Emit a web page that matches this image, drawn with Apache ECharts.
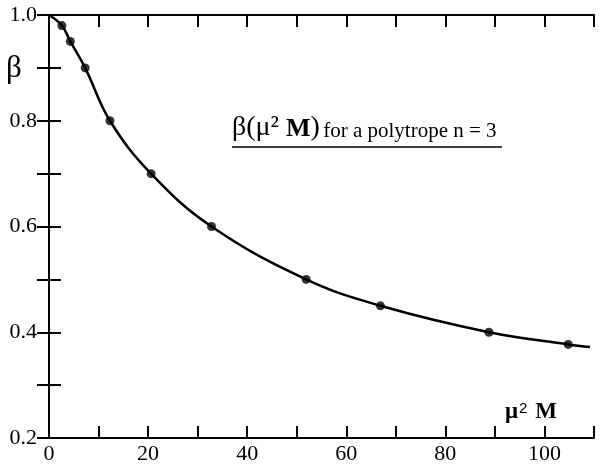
<!DOCTYPE html>
<html>
<head>
<meta charset="utf-8">
<script src="https://cdn.jsdelivr.net/npm/echarts@6/dist/echarts.min.js"></script>
<style>
  html, body { margin: 0; padding: 0; background: #fff; }
  #chart { width: 600px; height: 465px; }
</style>
</head>
<body>
<div id="chart"></div>
<script>
// points: mu^2 M vs beta
var muM = [2.6, 4.3, 7.3, 12.3, 20.6, 32.8, 51.9, 66.9, 88.8, 104.8]
var beta = [0.98, 0.95, 0.90, 0.80, 0.70, 0.60, 0.50, 0.45, 0.40, 0.377]
// the curve also runs from the corner to the right edge
var curveX = [0, 2.6, 4.3, 7.3, 12.3, 20.6, 32.8, 51.9, 66.9, 88.8, 104.8, 109.2]
var curveY = [1.0, 0.98, 0.95, 0.90, 0.80, 0.70, 0.60, 0.50, 0.45, 0.40, 0.377, 0.372]

var serif = '"Liberation Serif", "DejaVu Serif", serif'

var chart = echarts.init(document.getElementById('chart'))

function zip(a, b) {
  return a.map(function(v, i) { return [v, b[i]] })
}

var axisLine = { lineStyle: { color: '#000', width: 2 } }
var axisTick = { inside: true, length: 12, lineStyle: { color: '#000', width: 2 } }

chart.setOption({
  animation: false,
  grid: { left: 49, right: 6, top: 15, bottom: 26 },
  xAxis: [{
    type: 'value',
    min: 0,
    max: 110,
    interval: 10,
    axisLine: axisLine,
    axisTick: axisTick,
    splitLine: { show: false },
    axisLabel: {
      color: '#000',
      fontFamily: serif,
      fontSize: 22,
      margin: 5,
      formatter: function(v) {
        return v % 20 === 0 ? String(v) : ''
      }
    }
  }, {
    type: 'value',
    position: 'top',
    min: 0,
    max: 110,
    interval: 10,
    axisLine: axisLine,
    axisTick: axisTick,
    splitLine: { show: false },
    axisLabel: { show: false }
  }],
  yAxis: [{
    type: 'value',
    min: 0.2,
    max: 1.0,
    interval: 0.1,
    axisLine: axisLine,
    axisTick: axisTick,
    splitLine: { show: false },
    axisLabel: {
      color: '#000',
      fontFamily: serif,
      fontSize: 22,
      margin: 12,
      formatter: function(v) {
        var k = Math.round(v * 10)
        return k % 2 === 0 ? (k / 10).toFixed(1) : ''
      }
    }
  }, {
    type: 'value',
    position: 'right',
    min: 0.2,
    max: 1.0,
    interval: 0.1,
    axisLine: axisLine,
    axisTick: axisTick,
    splitLine: { show: false },
    axisLabel: { show: false }
  }],
  graphic: [
    {
      type: 'text',
      left: 6,
      top: 53,
      style: { text: 'β', font: '31px ' + serif, fill: '#000' }
    },
    {
      type: 'text',
      left: 505,
      top: 401,
      style: {
        text: '{a|μ}{s|2}{a| M}',
        fill: '#000',
        rich: {
          a: { fontFamily: serif, fontSize: 23, fontWeight: 'bold', verticalAlign: 'bottom' },
          s: { fontFamily: '"Liberation Sans", sans-serif', fontSize: 15, verticalAlign: 'top', padding: [0, 2, 8, 1] }
        }
      }
    },
    {
      type: 'text',
      left: 232,
      top: 114,
      style: {
        text: '{a|β(μ² }{b|M}{a|)} {c|for a polytrope n = 3}',
        fill: '#000',
        rich: {
          a: { fontFamily: serif, fontSize: 28, verticalAlign: 'bottom' },
          b: { fontFamily: serif, fontSize: 26, fontWeight: 'bold', verticalAlign: 'bottom' },
          c: { fontFamily: serif, fontSize: 21, verticalAlign: 'bottom' }
        }
      }
    },
    {
      type: 'line',
      shape: { x1: 232, y1: 147, x2: 502, y2: 147 },
      style: { stroke: '#000', lineWidth: 1.5 }
    }
  ],
  series: [
    {
      type: 'line',
      data: zip(curveX, curveY),
      smooth: 0.4,
      showSymbol: false,
      lineStyle: { color: '#000', width: 2.5 }
    },
    {
      type: 'scatter',
      data: zip(muM, beta),
      symbolSize: 9,
      itemStyle: { color: '#000' }
    }
  ]
})
</script>
</body>
</html>
